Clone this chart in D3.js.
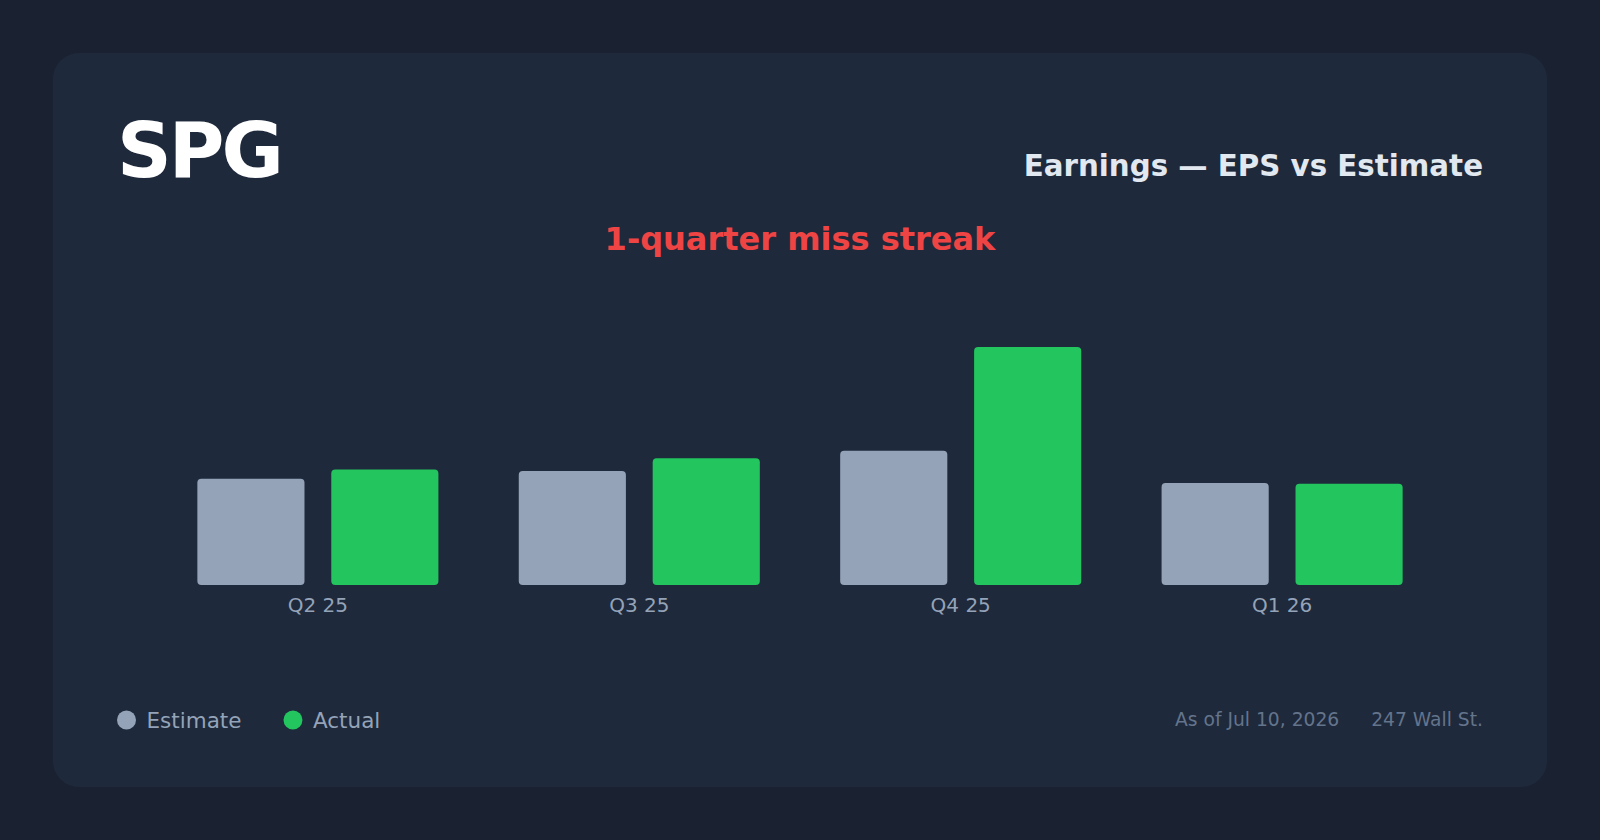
<!DOCTYPE html>
<html>
<head>
<meta charset="utf-8">
<script src="https://cdn.jsdelivr.net/npm/d3@7"></script>
<style>
  html, body { margin: 0; padding: 0; background: #1a2131; }
  svg { display: block; font-family: "DejaVu Sans", sans-serif; }
</style>
</head>
<body>
<svg id="chart" width="1600" height="840"></svg>
<script>
// ---- data ----
const ticker = "SPG";
const chartTitle = "Earnings \u2014 EPS vs Estimate";
const streakText = "1-quarter miss streak";
const quarters = ["Q2 25", "Q3 25", "Q4 25", "Q1 26"];
const estimateEPS = [1.25, 1.34, 1.58, 1.20];
const actualEPS = [1.36, 1.49, 2.80, 1.19];
const seriesNames = ["Estimate", "Actual"];
const seriesColors = ["#94a3b8", "#22c55e"];
const footerDate = "As of Jul 10, 2026";
const footerSource = "247 Wall St.";
const yMax = 3.2;

// ---- layout ----
const W = 1600, H = 840;
const card = { x: 53, y: 53, w: 1494, h: 734, r: 26 };
const pad = 64;
const left = card.x + pad, right = card.x + card.w - pad;
const baseY = 585, topY = 313;

const svg = d3.select("#chart");
svg.append("rect").attr("width", W).attr("height", H).attr("fill", "#1a2131");
svg.append("rect")
  .attr("x", card.x).attr("y", card.y).attr("width", card.w).attr("height", card.h)
  .attr("rx", card.r).attr("fill", "#1e293b");

svg.append("text").text(ticker)
  .attr("x", left).attr("y", 177)
  .attr("font-size", 76).attr("font-weight", "bold")
  .attr("letter-spacing", -3)
  .attr("fill", "#ffffff");

svg.append("text").text(chartTitle)
  .attr("x", right).attr("y", 176).attr("text-anchor", "end")
  .attr("font-size", 29.3).attr("font-weight", "bold")
  .attr("fill", "#e2e8f0");

svg.append("text").text(streakText)
  .attr("x", W / 2).attr("y", 250).attr("text-anchor", "middle")
  .attr("font-size", 32).attr("font-weight", "bold")
  .attr("fill", "#ef4444");

// ---- scales ----
const x0 = d3.scaleBand().domain(quarters).range([left, right]).padding(0.25);
const x1 = d3.scaleBand().domain(seriesNames).range([0, x0.bandwidth()]).paddingInner(0.2);
const y = d3.scaleLinear().domain([0, yMax]).range([baseY, topY]);
const color = d3.scaleOrdinal().domain(seriesNames).range(seriesColors);

const rows = quarters.map((q, i) => ({ q, vals: [
  { s: "Estimate", v: estimateEPS[i] },
  { s: "Actual", v: actualEPS[i] }
]}));

const g = svg.append("g");
g.selectAll("g.grp").data(rows).join("g")
  .attr("class", "grp")
  .attr("transform", d => `translate(${x0(d.q)},0)`)
  .selectAll("rect").data(d => d.vals).join("rect")
  .attr("x", d => x1(d.s))
  .attr("y", d => y(d.v))
  .attr("width", x1.bandwidth())
  .attr("height", d => y(0) - y(d.v))
  .attr("rx", 4)
  .attr("fill", d => color(d.s));

const axis = svg.append("g")
  .attr("transform", `translate(0,${baseY})`)
  .call(d3.axisBottom(x0).tickSize(0).tickPadding(13));
axis.select(".domain").remove();
axis.selectAll("text")
  .attr("font-family", "DejaVu Sans")
  .attr("font-size", 20)
  .attr("fill", "#94a3b8");

// ---- legend ----
const legend = svg.append("g");
let lx = left;
seriesNames.forEach((name, i) => {
  legend.append("circle").attr("cx", lx + 9.5).attr("cy", 720).attr("r", 9.5).attr("fill", seriesColors[i]);
  const t = legend.append("text").text(name)
    .attr("x", lx + 29.5).attr("y", 727.5)
    .attr("font-size", 21.5).attr("fill", "#94a3b8");
  lx = lx + 29.5 + t.node().getComputedTextLength() + 42;
});

// ---- footer ----
const src = svg.append("text").text(footerSource)
  .attr("x", right).attr("y", 726).attr("text-anchor", "end")
  .attr("font-size", 18.7).attr("fill", "#64748b");
const srcW = src.node().getComputedTextLength();
svg.append("text").text(footerDate)
  .attr("x", right - srcW - 32).attr("y", 726).attr("text-anchor", "end")
  .attr("font-size", 18.7).attr("fill", "#64748b");
</script>
</body>
</html>
